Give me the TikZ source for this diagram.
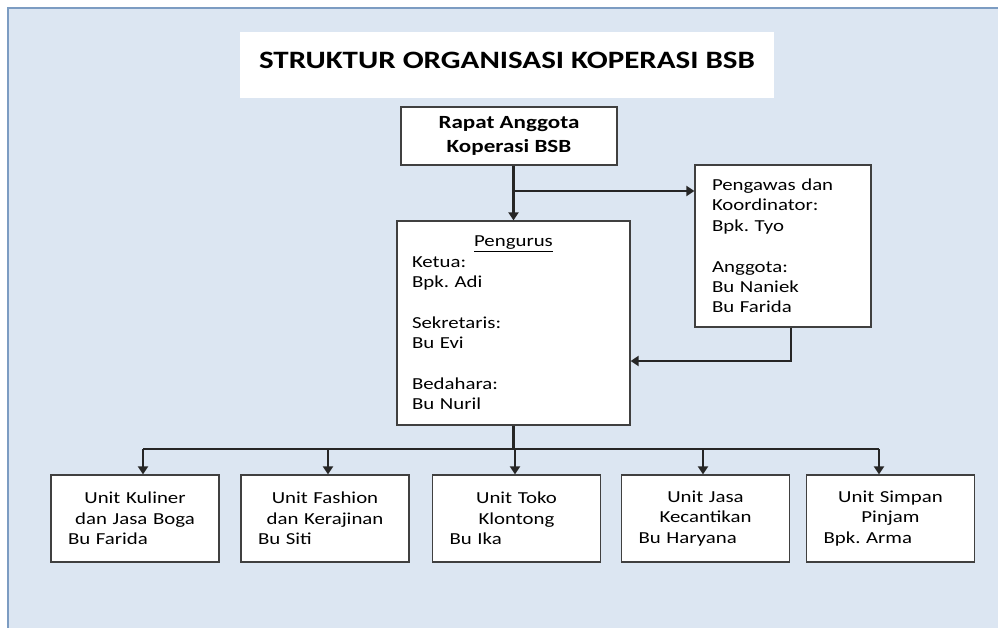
\documentclass[tikz,border=0pt]{standalone}
\usepackage{fontspec}
\setmainfont{Carlito}[FakeStretch=1.24]
\usetikzlibrary{arrows.meta}
\definecolor{panelfill}{HTML}{DCE6F2}
\definecolor{panelline}{HTML}{7C9CC2}
\definecolor{boxline}{HTML}{404040}
\definecolor{conline}{HTML}{262626}
\frenchspacing
\tikzset{
  panel/.style={fill=panelfill, draw=panelline, line width=2.4pt},
  box/.style={draw=boxline, fill=white, line width=1.3pt, font=\fontsize{16.8pt}{20.4pt}\selectfont, inner ysep=0pt},
  ubox/.style={box, minimum height=87pt, inner xsep=17pt, text width=134pt, align=center},
  conn/.style={draw=conline, line width=2.1pt},
  arr/.style={conn, -{Triangle[width=10pt,length=8pt]}},
}
\begin{document}
\begin{tikzpicture}[x=1pt,y=-1pt]
\useasboundingbox (0,0) rectangle (998,627);
\path[panel] (8,8) rectangle (1010,640);
\node[fill=white, minimum width=534pt, minimum height=66pt, inner sep=0pt, text height=17pt, text depth=11pt, font=\fontsize{25pt}{30pt}\selectfont\bfseries] (title) at (507,65) {STRUKTUR ORGANISASI KOPERASI BSB};
\node[box, minimum width=216pt, minimum height=58pt, align=center, font=\fontsize{18.6pt}{23.3pt}\selectfont\bfseries] (rapat) at (509,136) {Rapat Anggota\\Koperasi BSB};
\node[box, minimum height=204pt, inner xsep=15pt, text width=203pt, align=left] (pengurus) at (513.5,323) {\hbox to\hsize{\hfil\underline{Pengurus}\hfil}\\Ketua:\\Bpk. Adi\\[20.4pt]Sekretaris:\\Bu Evi\\[20.4pt]Bedahara:\\Bu Nuril};
\node[box, minimum height=162pt, inner xsep=17pt, text width=142pt, align=left] (pengawas) at (783,246) {Pengawas dan\\Koordinator:\\Bpk. Tyo\\[20.4pt]Anggota:\\Bu Naniek\\Bu Farida};
\node[ubox] (u1) at (135,518.5) {Unit Kuliner\\dan Jasa Boga\\\hbox to\hsize{Bu Farida\hfil}};
\node[ubox] (u2) at (325,518.5) {Unit Fashion\\dan Kerajinan\\\hbox to\hsize{Bu Siti\hfil}};
\node[ubox] (u3) at (516.5,518.5) {Unit Toko\\Klontong\\\hbox to\hsize{Bu Ika\hfil}};
\node[ubox] (u4) at (705.5,518.5) {Unit Jasa\\Kecantikan\\\hbox to\hsize{Bu Haryana\hfil}};
\node[ubox] (u5) at (890.5,518.5) {Unit Simpan\\Pinjam\\\hbox to\hsize{Bpk. Arma\hfil}};
\coordinate (br) at (513.5,191);
\draw[conn] (rapat.south -| br) -- (br);
\draw[arr] (br) -- (pengurus.north);
\draw[arr] (br) -- (br -| pengawas.west);
\coordinate (pk) at (791,361);
\draw[arr] (pengawas.south -| pk) -- (pk) -- (pk -| pengurus.east);
\coordinate (bus) at (513.5,449);
\draw[conn] (pengurus.south) -- (bus);
\coordinate (a1) at (143,449);
\coordinate (a2) at (328,449);
\coordinate (a3) at (515,449);
\coordinate (a4) at (703,449);
\coordinate (a5) at (879,449);
\draw[conn] (a1) -- (a5);
\draw[arr] (a1) -- (a1 |- u1.north);
\draw[arr] (a2) -- (a2 |- u2.north);
\draw[arr] (a3) -- (a3 |- u3.north);
\draw[arr] (a4) -- (a4 |- u4.north);
\draw[arr] (a5) -- (a5 |- u5.north);
\end{tikzpicture}
\end{document}
